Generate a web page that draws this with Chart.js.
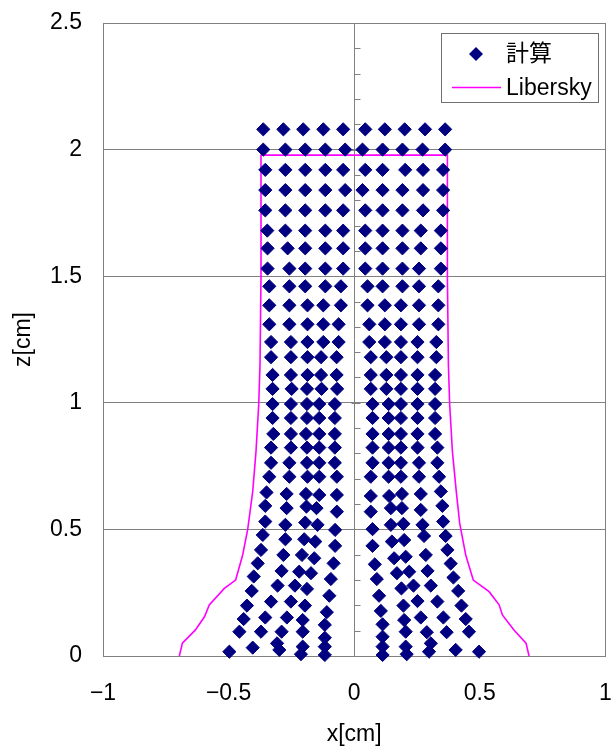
<!DOCTYPE html>
<html>
<head>
<meta charset="utf-8">
<script src="https://cdn.jsdelivr.net/npm/chart.js@4"></script>
<style>
  html, body { margin: 0; padding: 0; background: #ffffff; }
  #wrap { width: 613px; height: 749px; }
</style>
</head>
<body>
<div id="wrap"><canvas id="c" width="613" height="749"></canvas></div>
<script>
// ---------------- DATA ----------------
const seriesNames = ['計算', 'Libersky'];
const xTicks = [-1, -0.5, 0, 0.5, 1];
const zTicks = [0, 0.5, 1, 1.5, 2, 2.5];
const xTitle = 'x[cm]';
const zTitle = 'z[cm]';

// 計算 (calculated particles), upper rows: one z per row, 10 x values (left 5, right 5)
const upperRowZ = [2.08, 2.00, 1.92, 1.84, 1.76, 1.68, 1.61, 1.53, 1.46, 1.385, 1.31,
                   1.24, 1.18, 1.11, 1.055, 0.995, 0.94, 0.877, 0.823, 0.763, 0.708];
const upperRowX = [
  [-0.362,-0.282,-0.203,-0.123,-0.044, 0.044,0.122,0.201,0.282,0.362],
  [-0.362,-0.274,-0.195,-0.115,-0.036, 0.033,0.113,0.192,0.272,0.362],
  [-0.354,-0.274,-0.195,-0.115,-0.044, 0.044,0.113,0.203,0.274,0.354],
  [-0.354,-0.274,-0.195,-0.115,-0.036, 0.033,0.113,0.192,0.274,0.354],
  [-0.354,-0.274,-0.195,-0.115,-0.044, 0.044,0.113,0.192,0.274,0.354],
  [-0.346,-0.274,-0.195,-0.115,-0.044, 0.044,0.113,0.192,0.265,0.345],
  [-0.345,-0.265,-0.195,-0.115,-0.044, 0.044,0.113,0.192,0.265,0.345],
  [-0.345,-0.258,-0.195,-0.115,-0.044, 0.044,0.113,0.192,0.258,0.345],
  [-0.338,-0.258,-0.195,-0.115,-0.053, 0.053,0.113,0.192,0.258,0.335],
  [-0.338,-0.258,-0.186,-0.123,-0.053, 0.053,0.122,0.186,0.258,0.335],
  [-0.338,-0.258,-0.186,-0.123,-0.062, 0.060,0.122,0.186,0.258,0.335],
  [-0.331,-0.252,-0.186,-0.123,-0.062, 0.060,0.122,0.186,0.252,0.327],
  [-0.331,-0.252,-0.186,-0.132,-0.070, 0.066,0.128,0.186,0.252,0.327],
  [-0.325,-0.252,-0.186,-0.132,-0.070, 0.066,0.128,0.186,0.252,0.322],
  [-0.325,-0.249,-0.188,-0.130,-0.068, 0.066,0.128,0.186,0.252,0.322],
  [-0.325,-0.252,-0.188,-0.139,-0.077, 0.073,0.137,0.186,0.252,0.322],
  [-0.325,-0.252,-0.188,-0.139,-0.077, 0.073,0.137,0.186,0.252,0.322],
  [-0.322,-0.252,-0.192,-0.139,-0.077, 0.073,0.137,0.186,0.252,0.322],
  [-0.331,-0.252,-0.188,-0.139,-0.077, 0.073,0.137,0.186,0.252,0.331],
  [-0.331,-0.258,-0.188,-0.139,-0.077, 0.073,0.137,0.186,0.258,0.331],
  [-0.338,-0.258,-0.186,-0.139,-0.069, 0.066,0.137,0.186,0.258,0.338]
];

// 計算, lower (spreading) part: listed column by column
const lowerColX = [
  [-0.349,-0.354,-0.354,-0.364,-0.371,-0.384,-0.400,-0.408,-0.427,-0.440,-0.457,-0.497],
  [-0.269,-0.269,-0.274,-0.274,-0.282,-0.289,-0.305,-0.331,-0.354,-0.371,-0.404],
  [-0.192,-0.190,-0.195,-0.199,-0.208,-0.219,-0.236,-0.252,-0.268,-0.289,-0.307,-0.298],
  [-0.139,-0.150,-0.146,-0.155,-0.159,-0.172,-0.188,-0.196,-0.205,-0.205,-0.205,-0.212],
  [-0.069,-0.069,-0.076,-0.076,-0.082,-0.093,-0.099,-0.109,-0.117,-0.117,-0.117,-0.117],
  [0.066,0.066,0.073,0.073,0.082,0.090,0.099,0.106,0.113,0.113,0.113,0.113],
  [0.139,0.146,0.146,0.150,0.159,0.170,0.188,0.196,0.199,0.205,0.205,0.209],
  [0.190,0.190,0.196,0.199,0.205,0.219,0.236,0.252,0.265,0.289,0.305,0.298],
  [0.265,0.265,0.272,0.278,0.285,0.292,0.305,0.331,0.355,0.368,0.404],
  [0.345,0.351,0.354,0.364,0.371,0.384,0.395,0.414,0.427,0.444,0.457,0.497]
];
const lowerColZ = [
  [0.646,0.593,0.531,0.478,0.419,0.366,0.314,0.257,0.199,0.146,0.096,0.017],
  [0.640,0.584,0.518,0.461,0.399,0.336,0.278,0.215,0.152,0.096,0.033],
  [0.640,0.590,0.527,0.461,0.399,0.333,0.278,0.215,0.152,0.096,0.050,0.024],
  [0.636,0.584,0.518,0.452,0.386,0.327,0.265,0.199,0.142,0.096,0.037,0.007],
  [0.636,0.570,0.498,0.435,0.366,0.304,0.238,0.173,0.123,0.072,0.037,0.004],
  [0.632,0.570,0.501,0.435,0.362,0.304,0.238,0.178,0.125,0.076,0.037,0.004],
  [0.632,0.584,0.518,0.452,0.386,0.327,0.267,0.199,0.142,0.096,0.037,0.007],
  [0.640,0.584,0.522,0.458,0.392,0.333,0.278,0.217,0.152,0.094,0.050,0.017],
  [0.640,0.577,0.518,0.474,0.399,0.336,0.278,0.215,0.152,0.094,0.024],
  [0.650,0.593,0.531,0.474,0.419,0.365,0.310,0.257,0.199,0.146,0.096,0.017]
];

// Libersky profile
const libX = [-0.696,-0.684,-0.632,-0.596,-0.577,-0.517,-0.472,-0.444,-0.424,-0.404,-0.391,-0.380,-0.375,-0.371,-0.371,
              0.371,0.371,0.375,0.380,0.391,0.407,0.420,0.444,0.474,0.537,0.577,0.590,0.636,0.684,0.696];
const libZ = [0,0.051,0.103,0.155,0.202,0.267,0.300,0.399,0.500,0.649,0.807,0.995,1.150,1.500,1.978,
              1.978,1.500,1.150,0.995,0.807,0.643,0.524,0.399,0.300,0.254,0.202,0.162,0.103,0.051,0];

// ---------------- BUILD ----------------
const calcPoints = [];
upperRowZ.forEach((z, i) => upperRowX[i].forEach(x => calcPoints.push({x: x, y: z})));
lowerColX.forEach((col, i) => col.forEach((x, j) => calcPoints.push({x: x, y: lowerColZ[i][j]})));
const libPoints = libX.map((x, i) => ({x: x, y: libZ[i]}));

const FONT = '"Liberation Sans", Arial, "Noto Sans CJK JP", sans-serif';
const NAVY = '#000080';
const MAGENTA = '#FF00FF';
const GRID = '#808080';

Chart.defaults.color = '#000000';
Chart.defaults.font.family = FONT;
Chart.defaults.font.size = 23;

const fmt = v => (v < 0 ? '\u2212' : '') + String(Math.abs(v));

const framePlugin = {
  id: 'frame',
  beforeDatasetsDraw(chart) {
    const {ctx, chartArea: a, scales} = chart;
    const xs = scales.x, ys = scales.y;
    ctx.save();
    ctx.strokeStyle = GRID;
    ctx.lineWidth = 1;
    const x0 = Math.round(xs.getPixelForValue(0)) + 0.5;
    ctx.beginPath();
    ctx.moveTo(x0, a.top);
    ctx.lineTo(x0, a.bottom);
    // minor ticks every 0.1 on the central vertical axis
    for (let k = 0; k <= 25; k++) {
      const py = Math.round(ys.getPixelForValue(k / 10)) + 0.5;
      if (k % 5 === 0) {
        ctx.moveTo(x0 - 3, py);
        ctx.lineTo(x0 + 6, py);
      } else {
        ctx.moveTo(x0, py);
        ctx.lineTo(x0 + 6, py);
      }
    }
    ctx.stroke();
    ctx.strokeRect(Math.round(a.left) + 0.5, Math.round(a.top) + 0.5,
                   Math.round(a.right) - Math.round(a.left), Math.round(a.bottom) - Math.round(a.top));
    ctx.restore();
  },
  afterDraw(chart) {
    const {ctx} = chart;
    const ds = chart.data.datasets;
    ctx.save();
    // legend box
    ctx.fillStyle = '#ffffff';
    ctx.fillRect(441.5, 33.5, 157, 69);
    ctx.strokeStyle = '#707070';
    ctx.lineWidth = 1;
    ctx.strokeRect(441.5, 33.5, 157, 69);
    // diamond marker
    const r = 7;
    ctx.fillStyle = ds[0].backgroundColor;
    ctx.beginPath();
    ctx.moveTo(476 - r, 54);
    ctx.lineTo(476, 54 - r);
    ctx.lineTo(476 + r, 54);
    ctx.lineTo(476, 54 + r);
    ctx.closePath();
    ctx.fill();
    // line marker
    ctx.strokeStyle = ds[1].borderColor;
    ctx.lineWidth = 1.5;
    ctx.beginPath();
    ctx.moveTo(452, 87.5);
    ctx.lineTo(501, 87.5);
    ctx.stroke();
    // texts
    ctx.fillStyle = '#000000';
    ctx.font = '23px ' + FONT;
    ctx.textAlign = 'left';
    ctx.textBaseline = 'middle';
    ctx.fillText(ds[0].label, 506, 55);
    ctx.fillText(ds[1].label, 506, 89);
    ctx.restore();
  }
};

new Chart(document.getElementById('c'), {
  type: 'scatter',
  data: {
    datasets: [
      {
        label: seriesNames[0],
        data: calcPoints,
        pointStyle: 'rectRot',
        pointRadius: 6.6,
        pointBorderWidth: 1,
        backgroundColor: NAVY,
        borderColor: NAVY,
        showLine: false,
        clip: false
      },
      {
        label: seriesNames[1],
        data: libPoints,
        showLine: true,
        borderColor: MAGENTA,
        backgroundColor: MAGENTA,
        borderWidth: 1.6,
        pointRadius: 0,
        tension: 0,
        fill: false
      }
    ]
  },
  options: {
    responsive: false,
    animation: false,
    devicePixelRatio: 1,
    layout: { padding: { top: 23, right: 7, left: 0, bottom: 0 } },
    plugins: {
      legend: { display: false },
      tooltip: { enabled: false }
    },
    scales: {
      x: {
        type: 'linear',
        min: -1, max: 1,
        afterBuildTicks: s => { s.ticks = xTicks.map(v => ({value: v})); },
        afterFit: s => { s.height = 93; },
        grid: { display: false, drawTicks: true, tickLength: 24, tickColor: 'rgba(0,0,0,0)' },
        border: { display: false },
        ticks: { padding: 0, callback: v => fmt(v), maxRotation: 0, autoSkip: false,
                 font: { size: 23 }, color: '#000' },
        title: { display: true, text: xTitle, font: { size: 23 }, color: '#000',
                 padding: { top: 0, bottom: 1 } }
      },
      y: {
        type: 'linear',
        min: 0, max: 2.5,
        afterBuildTicks: s => { s.ticks = zTicks.map(v => ({value: v})); },
        afterFit: s => { s.width = 103; },
        grid: { color: GRID, lineWidth: 1, drawTicks: true, tickLength: 21, tickColor: 'rgba(0,0,0,0)' },
        border: { display: false },
        ticks: { padding: 0, callback: v => fmt(v), autoSkip: false,
                 font: { size: 23 }, color: '#000' },
        title: { display: true, text: zTitle, font: { size: 23 }, color: '#000',
                 padding: { top: 10, bottom: 0 } }
      }
    }
  },
  plugins: [framePlugin]
});
</script>
</body>
</html>
